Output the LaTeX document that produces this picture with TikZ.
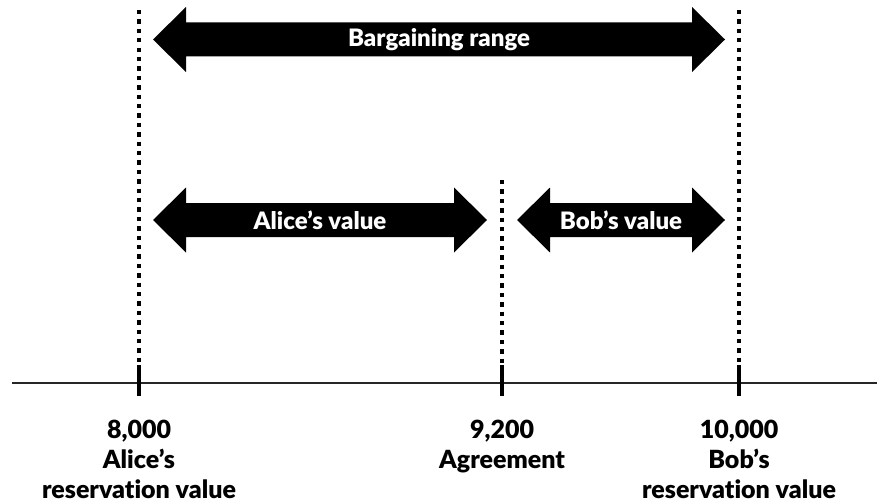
\documentclass[tikz,border=0pt]{standalone}
\usepackage{fontspec}
\setmainfont{Lato}[BoldFont={Lato Black}, RawFeature=-liga]
\tikzset{
  guide/.style={line width=4.3pt, dash pattern=on 4.3pt off 5.1pt},
  tick/.style={line width=3.5pt},
  axis/.style={line width=2pt, draw=black!85},
  arrowtext/.style={text=white, font=\bfseries\fontsize{24}{26}\selectfont, inner sep=0pt},
  valuelabel/.style={align=center, font=\bfseries\fontsize{25}{30}\selectfont, inner sep=0pt, anchor=north}
}
% Fat double-headed arrow: #1 left tip x, #2 right tip x, #3 centre y
\newcommand\fatarrow[3]{%
  \fill ({#1},{#3}) -- ({#1+33},{#3-32.5}) -- ({#1+33},{#3-17}) -- ({#2-33},{#3-17})
    -- ({#2-33},{#3-32.5}) -- ({#2},{#3}) -- ({#2-33},{#3+32.5}) -- ({#2-33},{#3+17})
    -- ({#1+33},{#3+17}) -- ({#1+33},{#3+32.5}) -- cycle;}
\begin{document}
\begin{tikzpicture}[x=1pt, y=-1pt]
  \useasboundingbox (0,0) rectangle (877,503);

  % positions on the number line
  \coordinate (alice) at (139,383);
  \coordinate (agree) at (502,383);
  \coordinate (bob)   at (739,383);
  \coordinate (alicetop) at (139,10);
  \coordinate (agreetop) at (502,180);
  \coordinate (bobtop)   at (739,10);
  \coordinate (axisL) at (12,383);
  \coordinate (axisR) at (877,383);

  % dotted guides
  \draw[guide] (alicetop) -- (alice);
  \draw[guide] (agreetop) -- (agree);
  \draw[guide] (bobtop) -- (bob);

  % number line with ticks
  \draw[axis] (axisL) -- (axisR);
  \foreach \p in {alice, agree, bob}
    \draw[tick] ([yshift=18pt]\p) -- ([yshift=-13pt]\p);

  % ranges
  \fatarrow{153}{725}{39.5}
  \fatarrow{153}{487}{220}
  \fatarrow{517}{725}{220}
  \node[arrowtext] (range) at (439,40) {Bargaining range};
  \node[arrowtext] (aval) at (320,220) {Alice’s value};
  \node[arrowtext] (bval) at (621,220) {Bob’s value};

  % labels under the line
  \node[valuelabel] (l1) at (139,420) {8,000\\Alice’s\\reservation value};
  \node[valuelabel] (l2) at (502,420) {9,200\\Agreement};
  \node[valuelabel] (l3) at (739,420) {10,000\\Bob’s\\reservation value};
\end{tikzpicture}
\end{document}
